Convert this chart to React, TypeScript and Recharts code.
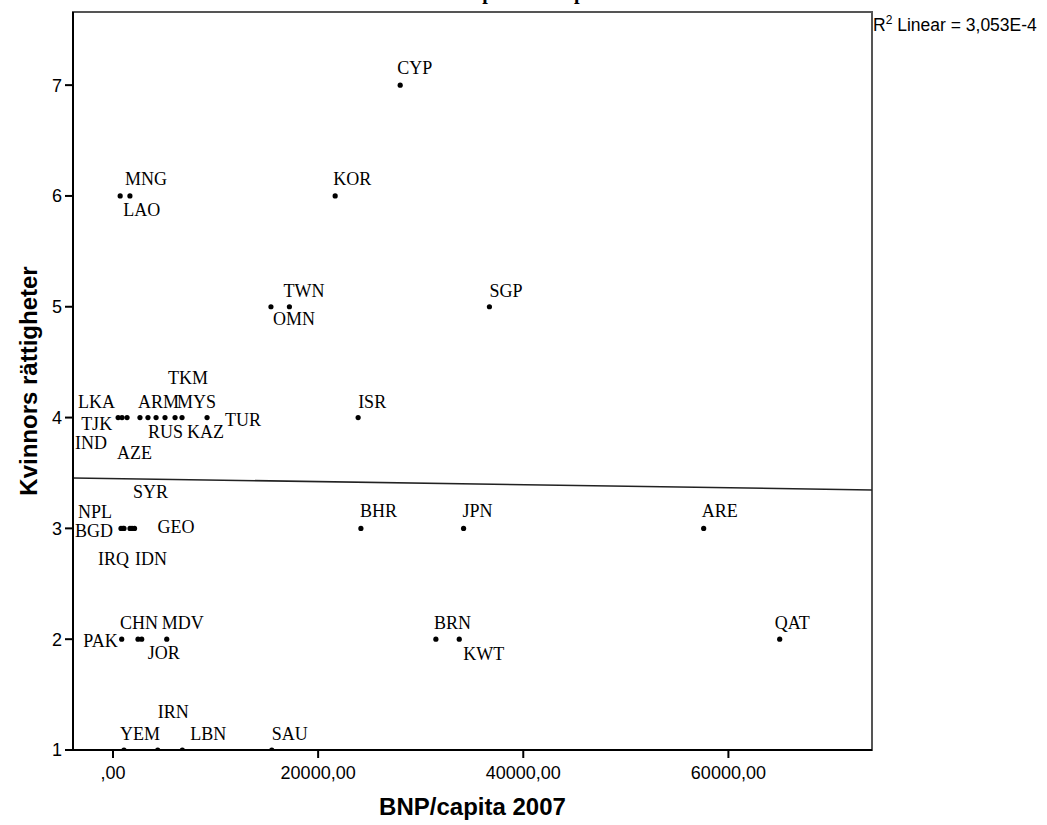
import React from "react";
import {
  ScatterChart,
  Scatter,
  XAxis,
  YAxis,
  ReferenceArea,
  ReferenceLine,
  Label,
} from "recharts";

// country codes, BNP/capita 2007 and women's rights score
const codes = [
  "CYP", "KOR", "MNG", "LAO", "TWN", "OMN", "SGP", "ISR",
  "TJK", "IND", "LKA", "AZE", "ARM", "TKM", "RUS", "MYS", "KAZ", "TUR",
  "NPL", "BGD", "IRQ", "IDN", "SYR", "GEO", "BHR", "JPN", "ARE",
  "PAK", "CHN", "JOR", "MDV", "BRN", "KWT", "QAT",
  "YEM", "IRN", "LBN", "SAU",
];
const gdp = [
  28000, 21660, 1650, 700, 17200, 15400, 36700, 23900,
  500, 880, 1370, 2630, 3410, 4200, 5070, 6050, 6730, 9170,
  780, 975, 1070, 1660, 1850, 2100, 24170, 34180, 57590,
  850, 2440, 2800, 5240, 31480, 33760, 65000,
  1070, 4360, 6760, 15480,
];
const rights = [
  7, 6, 6, 6, 5, 5, 5, 4,
  4, 4, 4, 4, 4, 4, 4, 4, 4, 4,
  3, 3, 3, 3, 3, 3, 3, 3, 3,
  2, 2, 2, 2, 2, 2, 2,
  1, 1, 1, 1,
];

const xTicks = [0, 20000, 40000, 60000];
const yTicks = [1, 2, 3, 4, 5, 6, 7];
const xDomain = [-3900, 74000];
const yDomain = [1, 7.66];

// fit line end points (linear fit as drawn)
const fitX = [-3900, 74000];
const fitY = [3.455, 3.347];

const data = codes.map((code, i) => ({ code, x: gdp[i], y: rights[i] }));

// where each label sits relative to its dot: [dx, dy(baseline), anchor]
const labelPlace: Record<string, [number, number, string?]> = {
  CYP: [-3, -11], KOR: [-2, -11], MNG: [-5, -11], LAO: [3, 20],
  TWN: [-6, -10], OMN: [2, 18], SGP: [0, -10], ISR: [0, -10],
  TJK: [-6, 12, "end"], IND: [-15, 31, "end"], LKA: [-12, -10, "end"],
  AZE: [-23, 41], ARM: [-10, -10], TKM: [12, -34], RUS: [-17, 20],
  MYS: [2, -10], KAZ: [5, 20], TUR: [18, 8],
  NPL: [-9, -10, "end"], BGD: [-10, 9, "end"], IRQ: [-26, 37], IDN: [5, 37],
  SYR: [1, -30], GEO: [23, 5], BHR: [-1, -11], JPN: [-1, -11], ARE: [-2, -11],
  PAK: [-4, 8, "end"], CHN: [-18, -10], JOR: [6, 20], MDV: [-5, -10],
  BRN: [-2, -10], KWT: [4, 21], QAT: [-5, -10],
  YEM: [-4, -10], IRN: [0, -32], LBN: [8, -10], SAU: [0, -10],
};

const fmt = (v: number) => (v === 0 ? ",00" : `${v},00`);

const Dot = (props: any) => {
  const { cx, cy, payload } = props;
  const [dx, dy, anchor] = labelPlace[payload.code] || [0, -10];
  return (
    <g>
      <circle cx={cx} cy={cy} r={2.6} fill="#000" />
      <text
        x={cx + dx}
        y={cy + dy}
        textAnchor={anchor || "start"}
        fontFamily="'Liberation Serif', serif"
        fontSize={18}
        fill="#000"
      >
        {payload.code}
      </text>
    </g>
  );
};

const sans = "'Liberation Sans', Arial, sans-serif";

export default function App() {
  return (
    <div style={{ position: "absolute", left: 0, top: 0, width: 1047, height: 825, background: "#fff" }}>
      <ScatterChart width={1047} height={825} margin={{ top: 12, right: 175, bottom: 0, left: 0 }}>
        <ReferenceArea
          x1={xDomain[0]}
          x2={xDomain[1]}
          y1={yDomain[0]}
          y2={yDomain[1]}
          fill="none"
          stroke="#555"
          strokeWidth={2}
        />
        <XAxis
          type="number"
          dataKey="x"
          domain={xDomain}
          ticks={xTicks}
          allowDataOverflow
          tickFormatter={fmt}
          height={75}
          tickSize={8}
          tickMargin={8}
          stroke="#000"
          axisLine={{ stroke: "#000", strokeWidth: 2 }}
          tickLine={{ stroke: "#000", strokeWidth: 2 }}
          tick={{ fill: "#000", fontSize: 18, fontFamily: sans }}
        >
          <Label
            value="BNP/capita 2007"
            position="insideBottom"
            offset={10}
            style={{ fontFamily: sans, fontWeight: "bold", fontSize: 24, fill: "#000" }}
          />
        </XAxis>
        <YAxis
          type="number"
          dataKey="y"
          domain={yDomain}
          ticks={yTicks}
          allowDataOverflow
          width={73}
          tickSize={8}
          tickMargin={3}
          axisLine={{ stroke: "#000", strokeWidth: 2 }}
          tickLine={{ stroke: "#000", strokeWidth: 2 }}
          tick={{ fill: "#000", fontSize: 18, fontFamily: sans }}
        >
          <Label
            value="Kvinnors rättigheter"
            angle={-90}
            position="insideLeft"
            offset={28}
            style={{ textAnchor: "middle", fontFamily: sans, fontWeight: "bold", fontSize: 24, fill: "#000" }}
          />
        </YAxis>
        <ReferenceLine
          segment={[
            { x: fitX[0], y: fitY[0] },
            { x: fitX[1], y: fitY[1] },
          ]}
          stroke="#222"
          strokeWidth={1.6}
        />
        <Scatter data={data} shape={<Dot />} isAnimationActive={false} />
      </ScatterChart>
      <svg
        width={1047}
        height={825}
        style={{ position: "absolute", left: 0, top: 0, pointerEvents: "none" }}
      >
        <text x={449} y={-1} fontFamily="'Liberation Serif', serif" fontWeight="bold" fontSize={20} fill="#000">
          Simple Scatterplot
        </text>
        <text x={873} y={31} fontFamily={sans} fontSize={17.5} fill="#000">
          R<tspan dy={-7} fontSize={12}>2</tspan>
          <tspan dy={7}> Linear = 3,053E-4</tspan>
        </text>
      </svg>
    </div>
  );
}
